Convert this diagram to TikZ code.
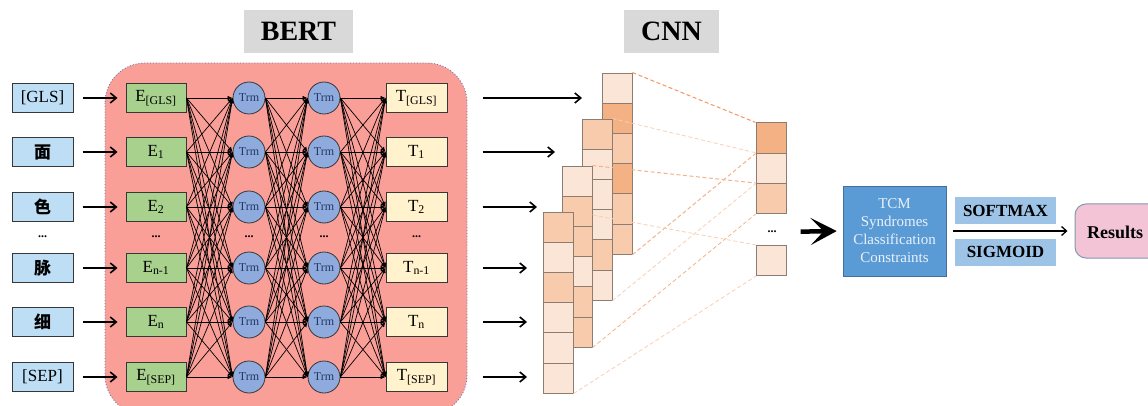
\documentclass[tikz,border=0pt]{standalone}
\usepackage{fontspec}
\setmainfont{Liberation Serif}
\newfontfamily\cjk{Noto Sans CJK SC}
\usetikzlibrary{arrows.meta}

\definecolor{bertbg}{RGB}{250,158,152}
\definecolor{bertedge}{RGB}{95,125,175}
\definecolor{labelgray}{RGB}{217,217,217}
\definecolor{inblue}{RGB}{189,222,244}
\definecolor{embgreen}{RGB}{169,209,142}
\definecolor{trmblue}{RGB}{143,170,220}
\definecolor{trmtext}{RGB}{32,56,100}
\definecolor{outyellow}{RGB}{255,242,204}
\definecolor{boxline}{RGB}{55,55,55}
\definecolor{celld}{RGB}{244,177,131}
\definecolor{cellm}{RGB}{248,203,173}
\definecolor{celll}{RGB}{251,229,214}
\definecolor{celledge}{RGB}{140,125,115}
\definecolor{dashdark}{RGB}{240,150,95}
\definecolor{dashmid}{RGB}{244,178,138}
\definecolor{dashlight}{RGB}{249,206,182}
\definecolor{tcmblue}{RGB}{91,155,213}
\definecolor{tcmedge}{RGB}{65,113,156}
\definecolor{tcmtext}{RGB}{232,241,250}
\definecolor{actblue}{RGB}{157,195,230}
\definecolor{respink}{RGB}{242,196,214}
\definecolor{resedge}{RGB}{132,151,176}

\begin{document}
\begin{tikzpicture}[x=1pt,y=-1pt,
  title/.style={fill=labelgray, minimum width=109pt, minimum height=43pt, inner sep=0pt,
    font=\fontsize{28}{30}\selectfont\bfseries},
  inbox/.style={draw=boxline, fill=inblue, line width=1pt, minimum width=61pt, minimum height=29pt,
    inner sep=0pt, font=\fontsize{17}{19}\selectfont},
  embbox/.style={inbox, fill=embgreen, minimum width=60pt},
  outbox/.style={inbox, fill=outyellow},
  trm/.style={circle, draw=boxline, fill=trmblue, line width=0.8pt, minimum size=32pt, inner sep=0pt,
    text=trmtext, font=\fontsize{12}{13}\selectfont},
  dots/.style={font=\fontsize{12}{12}\selectfont\bfseries, inner sep=0pt},
  feed/.style={line width=1.8pt, -{Straight Barb[length=6pt,width=10pt,line width=1.6pt]}},
  link/.style={line width=0.7pt, -{Latex[length=5pt,width=4.5pt]}},
  cell/.style={draw=celledge, line width=0.9pt, minimum width=30pt, minimum height=30.2pt, inner sep=0pt},
  pool/.style={dashed, dash pattern=on 4pt off 2.5pt, line width=1pt},
  act/.style={fill=actblue, minimum width=101pt, minimum height=27pt, inner sep=0pt,
    font=\fontsize{17}{18}\selectfont\bfseries}
]
\useasboundingbox (0,0) rectangle (1148,406);
\clip (0,0) rectangle (1148,406);

% BERT block background and titles
\draw[bertedge, fill=bertbg, line width=0.9pt, dotted, rounded corners=40pt] (105,63) rectangle (467,415);
\node[title] (bert) at (298.5,31.5) {BERT};
\node[title, minimum width=95pt] (cnn) at (671.5,31.5) {CNN};

% token rows: inputs, embeddings, two transformer layers, outputs
\foreach \n/\y/\w/\e in {gls/98/{[GLS]}/{[GLS]}, a/152/{\cjk\bfseries 面}/{1}, b/207/{\cjk\bfseries 色}/{2},
    c/268/{\cjk\bfseries 脉}/{n-1}, d/322/{\cjk\bfseries 细}/{n}, sep/377/{[SEP]}/{[SEP]}} {
  \node[inbox] (in-\n) at (42.5,\y) {\w};
  \node[embbox] (E-\n) at (156,\y) {E\textsubscript{\e}};
  \node[trm] (P-\n) at (249,\y) {Trm};
  \node[trm] (Q-\n) at (324,\y) {Trm};
  \node[outbox] (T-\n) at (416.5,\y) {T\textsubscript{\e}};
  \draw[feed, shorten <=9pt, shorten >=8pt] (in-\n) -- (E-\n);
}
\node[dots] (dots-in) at (42.5,237) {...};
\node[dots] (dots-E) at (156,237) {...};
\node[dots] (dots-P) at (249,237) {...};
\node[dots] (dots-Q) at (324,237) {...};
\node[dots] (dots-T) at (416.5,237) {...};

% fully connected layers
\foreach \s in {gls,a,b,c,d,sep} {
  \foreach \t in {gls,a,b,c,d,sep} {
    \draw[link] (E-\s.east) -- (P-\t.west);
    \draw[link] (Q-\s.east) -- (T-\t.west);
    \draw[link] (P-\s.east) -- (Q-\t.west);
  }
}

% outputs fed to the convolution
\foreach \n/\x in {gls/582, a/555, b/537, c/527, d/527, sep/527} {
  \coordinate (tend-\n) at (\x,{0});
  \draw[feed, shorten <=35pt] (T-\n.east) -- (T-\n.east -| tend-\n);
}

% convolution feature maps (back to front)
\foreach \col/\cx/\top/\cols in {A/617/73/{l,d,m,d,m,m}, B/597/119/{m,l,l,l,m,l},
    C/577/166/{l,m,m,l,m,m}, D/558/212/{m,l,m,l,l,l}} {
  \foreach \c [count=\i] in \cols {
    \node[cell, fill=cell\c] (\col\i) at (\cx,{\top+(\i-0.5)*30.2}) {};
  }
}

% pooled vector
\node[cell, fill=celld] (p1) at (771,138) {};
\node[cell, fill=celll] (p2) at (771,168.3) {};
\node[cell, fill=cellm] (p3) at (771,198.6) {};
\node[dots] (pdots) at (772,232) {...};
\node[cell, fill=celll] (p4) at (771.5,260.5) {};

% pooling projections
\draw[pool, dashdark] (A1.north east) -- (p1.north west);
\draw[pool, dashmid] (A6.south east) -- (p1.south west);
\draw[pool, dashlight, line width=0.8pt] (B1.north east) -- (p2.north west);
\draw[pool, dashlight, line width=0.8pt] (B6.south east) -- (p2.south west);
\draw[pool, dashmid] (C1.north east) -- (p3.north west);
\draw[pool, dashmid, line width=0.8pt] (C6.south east) -- (p3.south west);
\draw[pool, dashlight, line width=0.8pt] (D1.north east) -- (p4.north west);
\draw[pool, dashlight, line width=0.8pt] (D6.south east) -- (p4.south west);

% classification head
\node[fill=tcmblue, draw=tcmedge, line width=0.6pt, minimum width=103pt, minimum height=90pt,
  inner sep=0pt, text=tcmtext, align=center, font=\fontsize{15}{18}\selectfont]
  (tcm) at (894.5,231) {TCM\\Syndromes\\Classification\\Constraints};
\draw[line width=4.5pt, -{Stealth[length=26pt,width=27pt,inset=13pt]}, shorten <=24pt, shorten >=6pt]
  (pdots.east) -- (tcm.west);

\node[act] (softmax) at (1005.5,210.5) {SOFTMAX};
\node[act] (sigmoid) at (1005.5,252) {SIGMOID};

\node[draw=resedge, fill=respink, line width=1pt, rounded corners=11pt, minimum width=92pt,
  minimum height=54pt, inner sep=0pt] (res) at (1121,231) {};
\node[font=\fontsize{18}{20}\selectfont\bfseries, anchor=west, inner sep=0pt] (restext) at (1087,232) {Results};

\draw[line width=1.4pt, -{Straight Barb[length=5pt,width=9pt,line width=1.3pt]}, shorten <=7pt, shorten >=7pt]
  (tcm.east) -- (res.west);
\end{tikzpicture}
\end{document}
